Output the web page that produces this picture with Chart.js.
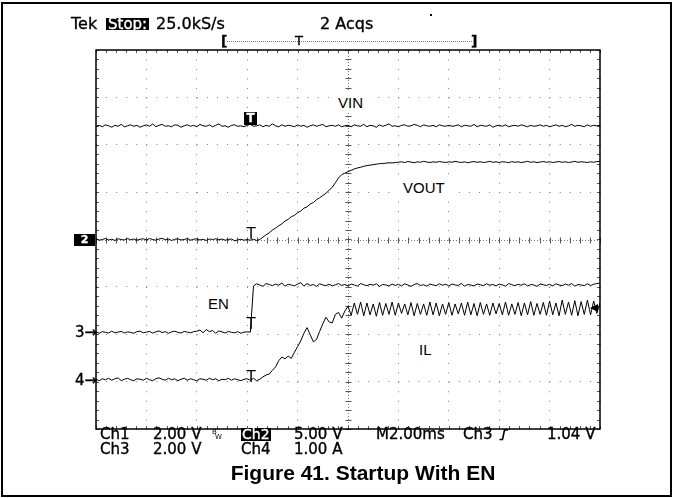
<!DOCTYPE html>
<html lang="en">
<head>
<meta charset="UTF-8">
<title>Startup With EN</title>
<script src="https://cdn.jsdelivr.net/npm/chart.js"></script>
<style>
  body { margin: 0; background: #fff; }
  #wrap { position: relative; width: 673px; height: 498px; overflow: hidden; }
  #scope { position: absolute; left: 0; top: 0; }
  #frame { position: absolute; left: 1px; top: 2px; width: 671px; height: 495px; box-sizing: border-box; border: 2px solid #000; }
  .s { position: absolute; font-family: "DejaVu Sans", sans-serif; font-size: 15px; line-height: 15px; color: #000; white-space: nowrap; -webkit-text-stroke: 0.35px #000; }
  .inv { background: #000; color: #fff; overflow: hidden; -webkit-text-stroke: 0.35px #fff; }
  .lbl { position: absolute; font-family: "Liberation Sans", Arial, sans-serif; font-size: 15px; line-height: 15px; background: #fff; padding: 3px 6px; white-space: nowrap; }
  .mk { position: absolute; font-family: "DejaVu Sans", sans-serif; font-size: 15px; line-height: 15px; width: 14px; text-align: center; }
  .cap { position: absolute; left: 163px; width: 400px; top: 462px; text-align: center; font: bold 21px/21px "Liberation Sans", Arial, sans-serif; }
</style>
</head>
<body>
<div id="wrap">
  <canvas id="scope" width="673" height="498"></canvas>
  <div id="frame"></div>

  <!-- header -->
  <div class="s" style="left:71px;top:16px;font-size:16px;line-height:16px">Tek</div>
  <div class="s inv" style="left:106px;top:18px;height:12px;line-height:12px;font-size:15px;padding:0 2px">Stop:</div>
  <div class="s" style="left:156px;top:16px;font-size:16px;line-height:16px">25.0kS/s</div>
  <div class="s" style="left:320px;top:16px;font-size:16px;line-height:16px">2 Acqs</div>
  <div style="position:absolute;left:430px;top:14px;width:2px;height:2px;background:#000"></div>
  <div class="s" style="left:221px;top:34px;font-size:14px;line-height:14px;font-weight:bold">[</div>
  <div style="position:absolute;left:227px;top:41px;width:245px;border-top:1px dotted #777"></div>
  <div class="s" style="left:295px;top:34px;font-size:13px;line-height:13px">T</div>
  <div class="s" style="left:471px;top:34px;font-size:14px;line-height:14px;font-weight:bold">]</div>

  <!-- trace labels -->
  <div class="lbl" style="left:332px;top:92px">VIN</div>
  <div class="lbl" style="left:397px;top:177px">VOUT</div>
  <div class="lbl" style="left:202px;top:293px">EN</div>
  <div class="lbl" style="left:413px;top:339px">IL</div>

  <!-- channel ground / trigger markers, placed from the scales below -->
  <div id="gnd2" class="s inv" style="left:74px;width:21px;height:12px;line-height:12px;font-size:11px;font-weight:bold;text-align:center">2</div>
  <div id="gnd3" class="s" style="left:75px">3→</div>
  <div id="gnd4" class="s" style="left:75px">4→</div>
  <div id="trigVin" class="mk inv" style="width:13px;height:13px;line-height:13px;font-size:12px;font-weight:bold">T</div>
  <div id="trigVout" class="mk">T</div>
  <div id="trigEn" class="mk">T</div>
  <div id="trigIl" class="mk">T</div>
  <div id="trigLvl" style="position:absolute;width:0;height:0;border-top:4px solid transparent;border-bottom:4px solid transparent;border-right:8px solid #000"></div>

  <!-- readout -->
  <div class="s" style="left:100px;top:427px">Ch1</div>
  <div class="s" style="left:153px;top:427px">2.00 V</div>
  <div class="s" style="left:212px;top:429px;font-size:7px;line-height:7px;-webkit-text-stroke:0">B</div>
  <div class="s" style="left:215px;top:434px;font-size:7px;line-height:7px;-webkit-text-stroke:0">W</div>
  <div class="s inv" style="left:241px;top:428px;height:13px;line-height:13px;font-size:14px;padding:0 1px">Ch2</div>
  <div class="s" style="left:294px;top:427px">5.00 V</div>
  <div class="s" style="left:376px;top:427px">M2.00ms</div>
  <div class="s" style="left:463px;top:427px">Ch3</div>
  <svg style="position:absolute;left:499px;top:429px" width="10" height="12"><path d="M0.5 10.5 H3.5 L5.5 1 H9" fill="none" stroke="#000" stroke-width="1.6"/></svg>
  <div class="s" style="left:547px;top:427px">1.04 V</div>
  <div class="s" style="left:100px;top:442px">Ch3</div>
  <div class="s" style="left:153px;top:442px">2.00 V</div>
  <div class="s" style="left:241px;top:442px">Ch4</div>
  <div class="s" style="left:294px;top:442px">1.00 A</div>

  <div class="cap">Figure 41. Startup With EN</div>
</div>
<script>
// time base: -6 ms .. +14 ms, 2 ms/div, one point every 0.125 ms
const time = [];
for (let i = 0; i <= 160; i++) time.push(-6 + i * 0.125);
const trigTime = 0.19;     // EN crosses the 1.04 V trigger level
const trigLevel = 1.04;

// VIN, Ch2, volts
const vin = [
  11.95,12.05,11.9,12.1,12.0,11.85,12.05,11.95,12.15,11.9,12.0,12.1,11.95,12.05,11.85,12.0,
  12.1,11.95,12.2,11.9,12.05,12.15,11.95,12.0,11.9,12.1,12.05,11.85,12.0,12.1,11.95,12.05,
  11.9,12.15,12.0,11.95,12.1,11.9,12.05,12.2,11.95,12.0,11.85,12.05,12.1,11.95,12.0,11.9,
  12.05,12.15,11.95,12.0,12.1,11.9,12.05,11.95,12.2,12.0,11.9,12.1,11.95,12.05,12.0,11.9,
  12.1,11.95,12.05,11.85,12.0,12.1,11.95,12.05,12.15,11.9,12.0,12.05,11.95,12.1,11.9,12.0,
  12.05,11.9,12.1,12.0,11.95,12.15,11.9,12.05,12.0,11.85,12.1,11.95,12.05,12.2,11.95,12.0,
  11.9,12.05,12.1,11.95,12.0,12.15,12.05,11.9,12.1,12.0,11.95,12.05,11.9,12.1,12.0,11.95,
  12.05,11.95,12.0,12.1,11.9,12.05,12.0,11.95,12.15,11.9,12.05,12.0,11.95,12.1,11.85,12.0,
  12.05,11.95,12.1,11.9,12.0,12.05,11.95,12.1,12.0,11.9,12.05,11.95,12.0,12.1,11.95,12.05,
  11.9,12.0,12.1,11.95,12.05,11.9,12.0,12.15,11.95,12.05,12.0,11.9,12.1,11.95,12.05,12.0,
  12.05
];

// VOUT, Ch1, volts
const vout = [
  0.02,-0.03,0.0,0.04,-0.02,0.01,-0.04,0.03,0.0,-0.02,0.04,-0.01,0.02,-0.03,0.01,0.03,
  -0.02,0.04,0.0,-0.03,0.02,0.05,-0.01,0.02,-0.04,0.01,0.03,-0.02,0.0,0.04,-0.03,0.01,
  0.03,-0.02,0.01,-0.04,0.02,0.0,0.03,-0.01,0.02,-0.03,0.0,0.02,-0.05,-0.02,0.01,-0.03,
  0.0,-0.03,0.01,-0.04,0.0,0.1,0.2,0.28,0.4,0.48,0.58,0.66,0.78,0.85,0.96,1.02,
  1.13,1.2,1.32,1.38,1.5,1.56,1.68,1.76,1.86,1.95,2.08,2.2,2.4,2.6,2.74,2.8,
  2.86,2.92,2.98,3.02,3.05,3.09,3.12,3.14,3.16,3.18,3.2,3.21,3.22,3.24,3.23,3.25,
  3.26,3.28,3.25,3.29,3.27,3.24,3.28,3.26,3.3,3.27,3.25,3.28,3.26,3.29,3.27,3.25,
  3.28,3.26,3.3,3.27,3.25,3.28,3.24,3.27,3.29,3.26,3.28,3.25,3.27,3.3,3.26,3.28,
  3.25,3.28,3.27,3.24,3.29,3.26,3.28,3.25,3.27,3.3,3.26,3.28,3.25,3.27,3.29,3.26,
  3.28,3.25,3.27,3.29,3.26,3.28,3.25,3.27,3.3,3.26,3.28,3.27,3.25,3.28,3.26,3.29,
  3.3
];

// EN, Ch3, volts
const en = [
  0.02,-0.04,0.03,0.0,-0.03,0.05,-0.02,0.01,0.04,-0.03,0.02,0.0,-0.04,0.03,0.05,-0.02,
  0.01,0.04,-0.03,0.02,0.06,-0.01,0.03,-0.04,0.02,0.05,0.0,-0.03,0.04,0.01,-0.02,0.03,
  0.05,0.1,-0.02,0.12,0.03,0.08,-0.04,0.06,0.02,-0.03,0.04,0.0,-0.02,0.03,-0.04,0.01,
  0.02,0.01,1.96,2.05,2.0,1.94,2.06,2.02,1.97,2.04,1.99,2.08,1.95,2.03,2.0,1.96,
  2.04,2.1,1.95,2.06,1.98,2.02,1.94,2.05,2.0,1.97,2.03,1.96,2.01,2.06,1.98,2.02,
  1.96,2.04,2.0,1.95,2.06,2.01,1.97,2.03,1.99,2.05,1.94,2.02,2.0,1.96,2.04,1.98,
  2.03,1.96,2.05,2.0,1.94,2.02,2.06,1.98,2.01,1.95,2.04,2.0,1.97,2.05,1.99,2.03,
  1.96,2.04,2.0,1.98,2.07,1.95,2.02,2.0,1.96,2.04,2.01,1.97,2.05,1.99,2.02,1.96,
  2.04,2.0,1.95,2.06,2.01,1.97,2.03,1.99,2.05,1.96,2.02,2.0,1.94,2.04,2.01,1.98,
  2.03,1.96,2.05,2.0,1.97,2.04,1.99,2.06,1.95,2.02,2.0,1.97,2.05,1.98,2.03,2.06,
  2.08
];

// IL, Ch4, amps
const il = [
  0.01,-0.02,0.02,0.0,0.03,-0.01,0.02,0.04,-0.02,0.01,0.03,0.0,-0.02,0.02,0.01,-0.01,
  0.03,0.0,-0.02,0.02,0.04,0.01,-0.01,0.03,0.0,0.02,-0.02,0.01,0.03,-0.01,0.02,0.0,
  -0.02,0.02,0.01,-0.01,0.03,0.0,0.02,-0.02,0.01,0.0,0.03,-0.01,0.02,0.0,-0.02,0.01,
  0.02,-0.01,0.03,-0.02,0.01,0.06,0.1,0.12,0.2,0.27,0.4,0.48,0.44,0.5,0.45,0.58,
  0.7,0.82,0.98,1.1,0.95,0.8,0.85,1.02,1.18,1.32,1.22,1.2,1.38,1.42,1.3,1.45,
  1.55,1.36,1.62,1.38,1.64,1.35,1.62,1.37,1.6,1.34,1.63,1.36,1.61,1.38,1.64,1.36,
  1.62,1.4,1.6,1.37,1.63,1.35,1.61,1.38,1.6,1.36,1.64,1.37,1.62,1.35,1.6,1.38,
  1.63,1.36,1.6,1.39,1.62,1.36,1.64,1.37,1.61,1.35,1.63,1.38,1.6,1.36,1.62,1.39,
  1.61,1.37,1.64,1.36,1.6,1.38,1.63,1.35,1.62,1.37,1.65,1.36,1.61,1.38,1.63,1.36,
  1.66,1.37,1.62,1.35,1.68,1.38,1.64,1.36,1.67,1.35,1.65,1.38,1.68,1.37,1.66,1.4,
  1.62
];

const toXY = arr => arr.map((v, i) => ({x: time[i], y: v}));
const trace = (label, arr, axis) => ({
  label, data: toXY(arr), yAxisID: axis,
  borderColor: '#000', borderWidth: 1, pointRadius: 0, tension: 0
});

// ticks on the frame and centre cross, 5 per division
const graticule = {
  id: 'graticule',
  beforeDatasetsDraw(chart) {
    const {ctx, chartArea: a} = chart;
    const x = chart.scales.x, y = chart.scales.y;
    const cx = Math.round(x.getPixelForValue(4)) + 0.5;
    const cy = Math.round(y.getPixelForValue(0)) + 0.5;
    ctx.save();
    ctx.strokeStyle = '#777';
    ctx.lineWidth = 1;
    ctx.setLineDash([1, 2]);
    ctx.beginPath();
    ctx.moveTo(cx, a.top); ctx.lineTo(cx, a.bottom);
    ctx.moveTo(a.left, cy); ctx.lineTo(a.right, cy);
    ctx.stroke();
    ctx.setLineDash([]);
    ctx.strokeStyle = '#555';
    ctx.beginPath();
    for (let v = -6; v <= 14.001; v += 0.4) {
      const px = Math.round(x.getPixelForValue(v)) + 0.5;
      ctx.moveTo(px, a.top); ctx.lineTo(px, a.top + 3);
      ctx.moveTo(px, a.bottom); ctx.lineTo(px, a.bottom - 3);
      ctx.moveTo(px, cy - 3); ctx.lineTo(px, cy + 3);
    }
    for (let v = -4; v <= 4.001; v += 0.2) {
      const py = Math.round(y.getPixelForValue(v)) + 0.5;
      ctx.moveTo(a.left, py); ctx.lineTo(a.left + 3, py);
      ctx.moveTo(a.right, py); ctx.lineTo(a.right - 3, py);
      ctx.moveTo(cx - 3, py); ctx.lineTo(cx + 3, py);
    }
    ctx.stroke();
    ctx.strokeStyle = '#000';
    ctx.lineWidth = 1.5;
    ctx.strokeRect(a.left, a.top, a.width, a.height);
    ctx.restore();
  }
};

const gridDots = (dash) => ({
  grid: {color: '#808080', drawTicks: false},
  border: {display: false, dash: dash},
  ticks: {display: false}
});

const chart = new Chart(document.getElementById('scope'), {
  type: 'line',
  data: {
    datasets: [
      trace('VIN', vin, 'yVin'),
      trace('VOUT', vout, 'yVout'),
      trace('EN', en, 'yEn'),
      trace('IL', il, 'yIl')
    ]
  },
  options: {
    responsive: false,
    animation: false,
    events: [],
    layout: {padding: {left: 96, right: 73, top: 50, bottom: 69}},
    plugins: {legend: {display: false}, tooltip: {enabled: false}},
    scales: {
      x: Object.assign({type: 'linear', min: -6, max: 14}, gridDots([1, 8.48]),
        {ticks: {display: false, stepSize: 2}}),
      y: Object.assign({min: -4, max: 4}, gridDots([1, 9.08]),
        {ticks: {display: false, stepSize: 1}}),
      yVin: {display: false, min: -20, max: 20},      // 5 V/div, ground at centre
      yVout: {display: false, min: -8, max: 8},       // 2 V/div, ground at centre
      yEn: {display: false, min: -4.08, max: 11.92},  // 2 V/div, ground 1.96 div below
      yIl: {display: false, min: -1.04, max: 6.96}    // 1 A/div, ground 2.96 div below
    }
  },
  plugins: [graticule]
});

// place the ground / trigger markers from the chart scales
const sc = chart.scales;
const tx = sc.x.getPixelForValue(trigTime) - 1;
const el = id => document.getElementById(id);
const setPos = (id, left, top) => { el(id).style.left = left + 'px'; el(id).style.top = top + 'px'; };
setPos('gnd2', 74, sc.yVin.getPixelForValue(0) - 6);
setPos('gnd3', 75, sc.yEn.getPixelForValue(0) - 7.2);
setPos('gnd4', 75, sc.yIl.getPixelForValue(0) - 7.2);
setPos('trigVin', tx - 7, sc.yVin.getPixelForValue(12) - 14);
setPos('trigVout', tx - 7, sc.yVout.getPixelForValue(0) - 12.7);
setPos('trigEn', tx - 7, sc.yEn.getPixelForValue(0) - 15);
setPos('trigIl', tx - 7, sc.yIl.getPixelForValue(0) - 9.8);
setPos('trigLvl', chart.chartArea.right - 10, sc.yEn.getPixelForValue(trigLevel) - 4);
</script>
</body>
</html>
